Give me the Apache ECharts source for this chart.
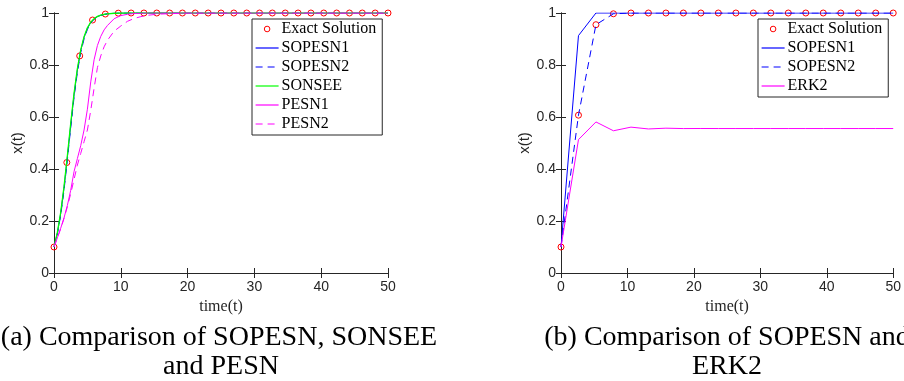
<!DOCTYPE html>
<html>
<head>
<meta charset="utf-8">
<script src="https://cdn.jsdelivr.net/npm/echarts@6/dist/echarts.min.js"></script>
<style>
html,body{margin:0;padding:0;background:#fff;}
#chart{width:904px;height:381px;}
</style>
</head>
<body>
<div id="chart"></div>
<script>
// ---------- Data ----------
// Left panel (a)
const tExactA = [0, 1.92, 3.85, 5.77, 7.69, 9.62, 11.54, 13.46, 15.38, 17.31, 19.23, 21.15, 23.08, 25,
  26.92, 28.85, 30.77, 32.69, 34.62, 36.54, 38.46, 40.38, 42.31, 44.23, 46.15, 48.08, 50];
const exactA = [0.1, 0.425, 0.835, 0.973, 0.996, 0.9994, 1, 1, 1, 1, 1, 1, 1, 1,
  1, 1, 1, 1, 1, 1, 1, 1, 1, 1, 1, 1, 1];

const tMethA = [0, 0.5, 1, 1.5, 2, 2.5, 3, 3.5, 4, 4.5, 5, 5.5, 6, 6.5, 7, 7.5, 8, 9, 10,
  11, 12, 13, 14, 15, 16, 18, 20, 25, 30, 35, 40, 45, 50];
const sopesn1A = [0.1, 0.153, 0.228, 0.327, 0.445, 0.568, 0.685, 0.781, 0.855, 0.906, 0.941, 0.964, 0.977, 0.986, 0.991, 0.995, 0.997, 0.999, 1,
  1, 1, 1, 1, 1, 1, 1, 1, 1, 1, 1, 1, 1, 1];
const sopesn2A = [0.1, 0.15, 0.222, 0.318, 0.435, 0.558, 0.675, 0.772, 0.848, 0.9, 0.937, 0.961, 0.976, 0.985, 0.991, 0.994, 0.996, 0.999, 1,
  1, 1, 1, 1, 1, 1, 1, 1, 1, 1, 1, 1, 1, 1];
const sonseeA = [0.1, 0.155, 0.232, 0.332, 0.451, 0.575, 0.691, 0.786, 0.858, 0.909, 0.943, 0.965, 0.978, 0.987, 0.992, 0.995, 0.997, 0.999, 1,
  1, 1, 1, 1, 1, 1, 1, 1, 1, 1, 1, 1, 1, 1];
const pesn1A = [0.1, 0.135, 0.172, 0.212, 0.26, 0.318, 0.39, 0.44, 0.49, 0.55, 0.63, 0.735, 0.82, 0.875, 0.91, 0.935, 0.952, 0.978, 0.99,
  0.995, 0.998, 0.999, 1, 1, 1, 1, 1, 1, 1, 1, 1, 1, 1];
const pesn2A = [0.1, 0.135, 0.17, 0.21, 0.255, 0.305, 0.36, 0.415, 0.46, 0.505, 0.55, 0.625, 0.71, 0.79, 0.835, 0.87, 0.895, 0.93, 0.95,
  0.968, 0.979, 0.986, 0.991, 0.994, 0.996, 0.998, 1, 1, 1, 1, 1, 1, 1];

// Right panel (b)
const tB = [0, 2.63, 5.26, 7.89, 10.53, 13.16, 15.79, 18.42, 21.05, 23.68, 26.32, 28.95, 31.58, 34.21,
  36.84, 39.47, 42.11, 44.74, 47.37, 50];
const exactB = [0.1, 0.607, 0.955, 0.997, 1, 1, 1, 1, 1, 1, 1, 1, 1, 1, 1, 1, 1, 1, 1, 1];
const sopesn1B = [0.1, 0.913, 1, 1, 1, 1, 1, 1, 1, 1, 1, 1, 1, 1, 1, 1, 1, 1, 1, 1];
const sopesn2B = [0.1, 0.607, 0.955, 0.997, 1, 1, 1, 1, 1, 1, 1, 1, 1, 1, 1, 1, 1, 1, 1, 1];
const erk2B = [0.1, 0.513, 0.581, 0.547, 0.561, 0.554, 0.557, 0.5555, 0.5558, 0.5556, 0.5556, 0.5556, 0.5556, 0.5556,
  0.5556, 0.5556, 0.5556, 0.5556, 0.5556, 0.5556];

// Tick labels
const xTickLabels = ['0', '10', '20', '30', '40', '50'];
const yTickLabels = ['0', '0.2', '0.4', '0.6', '0.8', '1'];

const legendA = ['Exact Solution', 'SOPESN1', 'SOPESN2', 'SONSEE', 'PESN1', 'PESN2'];
const legendB = ['Exact Solution', 'SOPESN1', 'SOPESN2', 'ERK2'];

const captionA = ['(a) Comparison of SOPESN, SONSEE', 'and PESN'];
const captionB = ['(b) Comparison of SOPESN and', 'ERK2'];

// ---------- Chart ----------
const AX = '#262626';
const SANS = '"Liberation Sans", Arial, sans-serif';
const SERIF = '"Liberation Serif", "Times New Roman", serif';
const pair = (ts, vs) => ts.map((t, i) => [t, vs[i]]);

function xAxes(g) {
  const base = {gridIndex: g, type: 'value', min: 0, max: 50, interval: 10,
    axisLine: {show: true, lineStyle: {color: AX, width: 1}},
    axisTick: {show: true, inside: true, length: 5, lineStyle: {color: AX}},
    splitLine: {show: false}};
  return [
    Object.assign({}, base, {position: 'bottom',
      axisLabel: {show: true, margin: 7, color: AX, fontFamily: SANS, fontSize: 14,
        formatter: v => xTickLabels[Math.round(v / 10)]},
      name: 'time(t)', nameLocation: 'middle', nameGap: 20,
      nameTextStyle: {fontFamily: SERIF, fontSize: 16, color: AX}}),
    Object.assign({}, base, {position: 'top', axisLabel: {show: false}})
  ];
}
function yAxes(g) {
  const base = {gridIndex: g, type: 'value', min: 0, max: 1, interval: 0.2,
    axisLine: {show: true, lineStyle: {color: AX, width: 1}},
    axisTick: {show: true, inside: true, length: 5, lineStyle: {color: AX}},
    splitLine: {show: false}};
  return [
    Object.assign({}, base, {position: 'left',
      axisLabel: {show: true, margin: 5, color: AX, fontFamily: SANS, fontSize: 14,
        formatter: v => yTickLabels[Math.round(v * 5)]},
      name: 'x(t)', nameLocation: 'middle', nameRotate: 90, nameGap: 28,
      nameTextStyle: {fontFamily: SANS, fontSize: 15, color: AX}}),
    Object.assign({}, base, {position: 'right', axisLabel: {show: false}})
  ];
}

function exactSeries(xi, data) {
  return {name: 'Exact Solution', type: 'line', xAxisIndex: xi, yAxisIndex: xi, data: data,
    symbol: 'circle', symbolSize: 6, showSymbol: true,
    lineStyle: {opacity: 0, width: 0},
    itemStyle: {color: 'rgba(255,255,255,0)', borderColor: '#ff0000', borderWidth: 1},
    z: 2};
}
function lineSeries(name, xi, data, color, dashed, width) {
  return {name: name, type: 'line', xAxisIndex: xi, yAxisIndex: xi, data: data,
    symbol: 'none', showSymbol: false,
    lineStyle: {color: color, width: width || 1, type: dashed ? [7, 5] : 'solid'},
    itemStyle: {color: color}, z: 3};
}
function legendData(names) {
  return names.map(n => n === 'Exact Solution'
    ? {name: n, itemStyle: {color: 'rgba(255,255,255,0)', borderColor: '#ff0000', borderWidth: 1}}
    : {name: n, itemStyle: {opacity: 0}, lineStyle: {width: 1.2}});
}

const legendCommon = {orient: 'vertical', itemWidth: 23, itemHeight: 7, itemGap: 3,
  borderColor: AX, borderWidth: 1, backgroundColor: '#fff', padding: [2, 6, 3, 3],
  textStyle: {fontFamily: SERIF, fontSize: 16, color: '#000', lineHeight: 16, padding: [0, 0, 0, -2]},
  selectedMode: false};

const option = {
  animation: false,
  backgroundColor: '#fff',
  grid: [
    {left: 54, top: 13, width: 334, height: 260, show: false},
    {left: 561, top: 13, width: 335, height: 260, show: false}
  ],
  xAxis: xAxes(0).concat(xAxes(1)),
  yAxis: yAxes(0).concat(yAxes(1)),
  legend: [
    Object.assign({}, legendCommon, {data: legendData(legendA), left: 252, top: 19}),
    Object.assign({}, legendCommon, {data: legendData(legendB), left: 758, top: 19})
  ],
  series: [
    exactSeries(0, pair(tExactA, exactA)),
    lineSeries('SOPESN1', 0, pair(tMethA, sopesn1A), '#0000ff', false),
    lineSeries('SOPESN2', 0, pair(tMethA, sopesn2A), '#0000ff', true),
    lineSeries('SONSEE', 0, pair(tMethA, sonseeA), '#00ff00', false, 1.3),
    lineSeries('PESN1', 0, pair(tMethA, pesn1A), '#ff00ff', false),
    lineSeries('PESN2', 0, pair(tMethA, pesn2A), '#ff00ff', true),
    exactSeries(2, pair(tB, exactB)),
    lineSeries('SOPESN1', 2, pair(tB, sopesn1B), '#0000ff', false),
    lineSeries('SOPESN2', 2, pair(tB, sopesn2B), '#0000ff', true),
    lineSeries('ERK2', 2, pair(tB, erk2B), '#ff00ff', false)
  ],
  graphic: [
    {type: 'text', x: 219, y: 338, style: {text: captionA[0], textAlign: 'center', textVerticalAlign: 'middle', font: '28px ' + SERIF, fill: '#000'}},
    {type: 'text', x: 221, y: 367, style: {text: captionA[1], textAlign: 'center', textVerticalAlign: 'middle', font: '28px ' + SERIF, fill: '#000'}},
    {type: 'text', x: 727, y: 338, style: {text: captionB[0], textAlign: 'center', textVerticalAlign: 'middle', font: '28px ' + SERIF, fill: '#000'}},
    {type: 'text', x: 727, y: 367, style: {text: captionB[1], textAlign: 'center', textVerticalAlign: 'middle', font: '28px ' + SERIF, fill: '#000'}}
  ]
};

const chart = echarts.init(document.getElementById('chart'), null, {renderer: 'canvas'});
chart.setOption(option);
</script>
</body>
</html>
